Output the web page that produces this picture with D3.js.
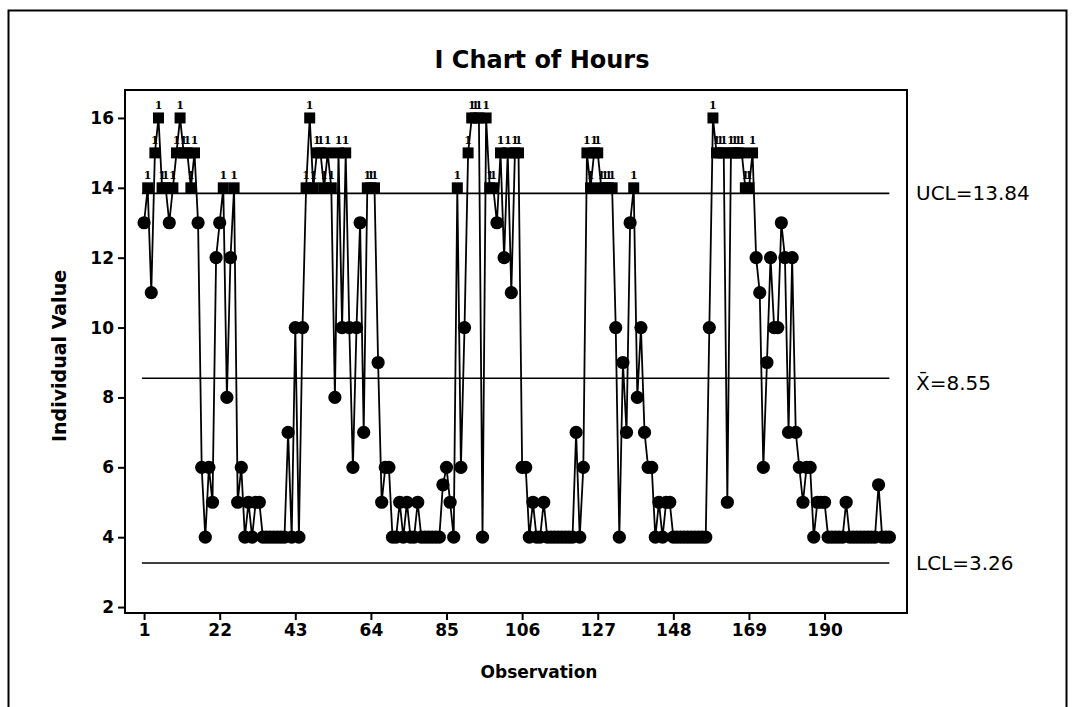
<!DOCTYPE html>
<html>
<head>
<meta charset="utf-8">
<script src="https://cdn.jsdelivr.net/npm/d3@7"></script>
<style>
  body { margin: 0; background: #ffffff; }
  svg { display: block; }
</style>
</head>
<body>
<script>
// ---------- data ----------
const hours = [
  13,14,11,15,16,14,14,13,14,15, 16,15,15,14,15,13,6,4,6,5,
  12,13,14,8,12,14,5,6,4,5,      4,5,5,4,4,4,4,4,4,4,
  7,4,10,4,10,14,16,14,15,15,    14,15,14,8,15,10,15,10,6,10,
  13,7,14,14,14,9,5,6,6,4,       4,5,4,5,4,4,5,4,4,4,
  4,4,4,5.5,6,5,4,14,6,10,       15,16,16,16,4,16,14,14,13,15,
  12,15,11,15,15,6,6,4,5,4,      4,5,4,4,4,4,4,4,4,4,
  7,4,6,15,14,15,15,14,14,14,    14,10,4,9,7,13,14,8,10,7,
  6,6,4,5,4,5,5,4,4,4,           4,4,4,4,4,4,4,10,16,15,
  15,15,5,15,15,15,15,14,14,15,  12,11,6,9,12,10,10,13,12,7,
  12,7,6,5,6,6,4,5,5,5,          4,4,4,4,4,5,4,4,4,4,
  4,4,4,4,5.5,4,4,4
];
const xTickValues = [1,22,43,64,85,106,127,148,169,190];
const yTickValues = [2,4,6,8,10,12,14,16];
const limitValues = [13.84, 8.55, 3.26];
const limitLabels = ["UCL=13.84", "X\u0304=8.55", "LCL=3.26"];
const titleText = "I Chart of Hours";
const xLabel = "Observation";
const yLabel = "Individual Value";

// ---------- layout ----------
const W = 1072, H = 707;
const frame = { left: 125, right: 907, top: 90, bottom: 613 };
const sans = "DejaVu Sans, Verdana, sans-serif";

const svg = d3.select("body").append("svg")
  .attr("width", W).attr("height", H);

svg.append("rect").attr("width", W).attr("height", H).attr("fill", "#fff");
// outer graph border
svg.append("rect")
  .attr("x", 8.5).attr("y", 10.5).attr("width", 1058).attr("height", 740)
  .attr("fill", "none").attr("stroke", "#000").attr("stroke-width", 2);

const n = hours.length;
const x = d3.scaleLinear().domain([-4.3, 212.9]).range([frame.left, frame.right]);
const y = d3.scaleLinear().domain([1.83, 16.8]).range([frame.bottom, frame.top]);

const pts = hours.map((v, i) => ({ obs: i + 1, v }));
const ucl = limitValues[0], lcl = limitValues[2];
const isOut = d => d.v > ucl || d.v < lcl;

// title
svg.append("text")
  .attr("x", 542).attr("y", 68)
  .attr("text-anchor", "middle")
  .attr("font-family", sans)
  .attr("font-weight", "bold")
  .attr("font-size", 24)
  .text(titleText);

// control limit lines
const limG = svg.append("g");
limitValues.forEach((lv, i) => {
  limG.append("line")
    .attr("x1", x(0.4)).attr("x2", x(n))
    .attr("y1", y(lv)).attr("y2", y(lv))
    .attr("stroke", "#000").attr("stroke-width", 1.6);
  limG.append("text")
    .attr("x", 916)
    .attr("y", y(lv) + (i === 1 ? 12 : 7))
    .attr("font-family", sans)
    .attr("font-size", 20)
    .text(limitLabels[i]);
});

// data line
svg.append("path")
  .datum(pts)
  .attr("fill", "none")
  .attr("stroke", "#000")
  .attr("stroke-width", 1.8)
  .attr("d", d3.line().x(d => x(d.obs)).y(d => y(d.v)));

// markers
const mk = svg.append("g");
mk.selectAll("circle").data(pts.filter(d => !isOut(d))).join("circle")
  .attr("cx", d => x(d.obs)).attr("cy", d => y(d.v)).attr("r", 6.6)
  .attr("fill", "#000");
const sq = 11;
mk.selectAll("rect").data(pts.filter(isOut)).join("rect")
  .attr("x", d => x(d.obs) - sq / 2).attr("y", d => y(d.v) - sq / 2)
  .attr("width", sq).attr("height", sq)
  .attr("fill", "#000");
// test-1 labels
mk.selectAll("text").data(pts.filter(isOut)).join("text")
  .attr("x", d => x(d.obs)).attr("y", d => y(d.v) - 9)
  .attr("text-anchor", "middle")
  .attr("font-family", "DejaVu Serif, Liberation Serif, serif")
  .attr("font-weight", "bold")
  .attr("font-size", 11)
  .text("1");

// frame
svg.append("rect")
  .attr("x", frame.left).attr("y", frame.top)
  .attr("width", frame.right - frame.left).attr("height", frame.bottom - frame.top)
  .attr("fill", "none").attr("stroke", "#000").attr("stroke-width", 2);

// axes
const xAxis = svg.append("g")
  .attr("transform", `translate(0,${frame.bottom})`)
  .call(d3.axisBottom(x).tickValues(xTickValues).tickSize(7).tickPadding(4).tickSizeOuter(0));
xAxis.select(".domain").remove();
xAxis.selectAll(".tick line").attr("stroke", "#000").attr("stroke-width", 2);
xAxis.selectAll(".tick text")
  .attr("font-family", sans)
  .attr("font-weight", "bold")
  .attr("font-size", 17)
  .attr("fill", "#000");

const yAxis = svg.append("g")
  .attr("transform", `translate(${frame.left},0)`)
  .call(d3.axisLeft(y).tickValues(yTickValues).tickSize(7).tickPadding(4).tickSizeOuter(0));
yAxis.select(".domain").remove();
yAxis.selectAll(".tick line").attr("stroke", "#000").attr("stroke-width", 2);
yAxis.selectAll(".tick text")
  .attr("font-family", sans)
  .attr("font-weight", "bold")
  .attr("font-size", 17)
  .attr("fill", "#000");

// axis titles
svg.append("text")
  .attr("x", 539).attr("y", 678)
  .attr("text-anchor", "middle")
  .attr("font-family", sans)
  .attr("font-weight", "bold")
  .attr("font-size", 17)
  .text(xLabel);

svg.append("text")
  .attr("transform", "translate(66,356) rotate(-90)")
  .attr("text-anchor", "middle")
  .attr("font-family", sans)
  .attr("font-weight", "bold")
  .attr("font-size", 19)
  .text(yLabel);
</script>
</body>
</html>
